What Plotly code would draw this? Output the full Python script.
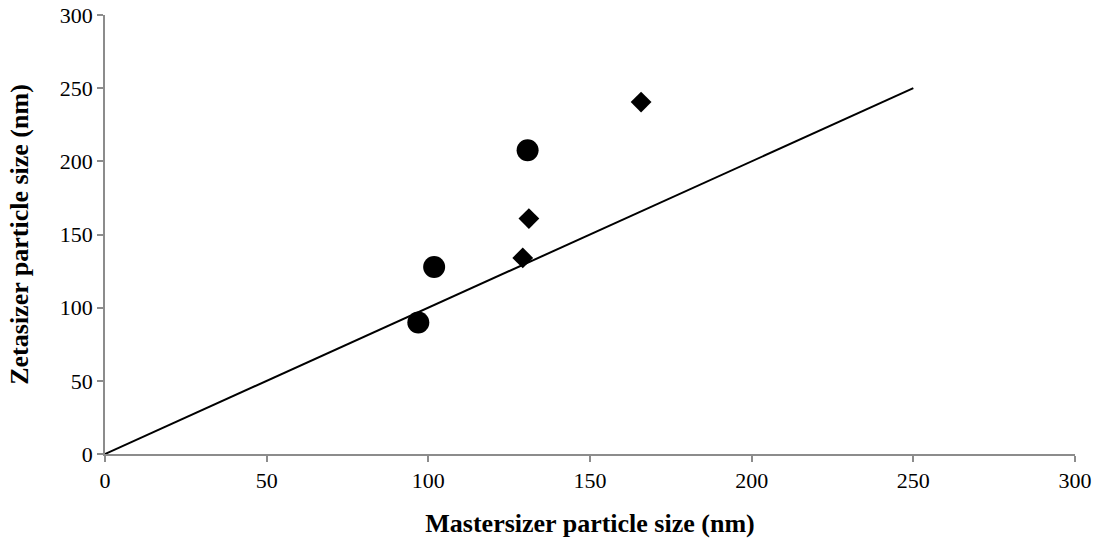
import plotly.graph_objects as go

circle_x = [96.9, 101.8, 130.7]
circle_y = [89.8, 127.8, 207.6]
diamond_x = [129.2, 131.1, 165.8]
diamond_y = [134.0, 160.9, 240.5]
line_x = [0, 250]
line_y = [0, 250]
ticks = [0, 50, 100, 150, 200, 250, 300]

fig = go.Figure()
fig.add_trace(go.Scatter(x=line_x, y=line_y, mode="lines",
                         line=dict(color="black", width=2), showlegend=False))
fig.add_trace(go.Scatter(x=circle_x, y=circle_y, mode="markers",
                         marker=dict(symbol="circle", size=22, color="black"), showlegend=False))
fig.add_trace(go.Scatter(x=diamond_x, y=diamond_y, mode="markers",
                         marker=dict(symbol="diamond", size=16, color="black"), showlegend=False))

axis_common = dict(showgrid=False, zeroline=False, showline=True, linecolor="#8c8c8c",
                   linewidth=1.5, ticks="outside", tickcolor="#8c8c8c", ticklen=6,
                   tickwidth=1.5, range=[0, 300], tickvals=ticks, automargin=False,
                   ticklabeloverflow="allow",
                   tickfont=dict(family="Liberation Serif", size=22, color="black"))
fig.update_layout(
    width=1104, height=545,
    margin=dict(l=105, r=29, t=15, b=91),
    plot_bgcolor="white", paper_bgcolor="white",
    xaxis=dict(**axis_common,
               title=dict(text="<b>Mastersizer particle size (nm)</b>", standoff=22,
                          font=dict(family="Liberation Serif", size=26, color="black"))),
    yaxis=dict(**axis_common,
               title=dict(text="<b>Zetasizer particle size (nm)</b>", standoff=24,
                          font=dict(family="Liberation Serif", size=26, color="black"))),
)
fig.write_html("out.html", config={"displayModeBar": False},
               post_script="document.body.style.margin='0px';")
